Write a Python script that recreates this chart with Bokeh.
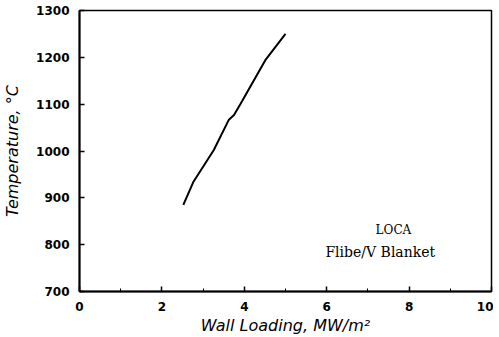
from bokeh.plotting import figure
from bokeh.models import Range1d, Label, FixedTicker
from bokeh.embed import file_html
from bokeh.resources import INLINE

wall_loading = [2.52, 2.77, 3.26, 3.62, 3.75, 3.91, 4.51, 5.0]
temperature = [885, 935, 1002, 1066, 1077, 1101, 1194, 1250]

x_ticks = [0, 2, 4, 6, 8, 10]
y_ticks = [700, 800, 900, 1000, 1100, 1200, 1300]

p = figure(width=493, height=337, output_backend="svg", toolbar_location=None,
           x_range=Range1d(0, 10), y_range=Range1d(700, 1300),
           min_border_left=79, min_border_right=2, min_border_top=10, min_border_bottom=45)

p.line(wall_loading, temperature, line_color="black", line_width=2)

p.xgrid.visible = False
p.ygrid.visible = False
p.outline_line_color = "black"
p.outline_line_width = 1.5
p.outline_line_alpha = 1

p.xaxis.ticker = FixedTicker(ticks=x_ticks, minor_ticks=[1, 3, 5, 7, 9])
p.yaxis.ticker = FixedTicker(ticks=y_ticks, minor_ticks=[])

for ax in (p.xaxis, p.yaxis):
    ax.axis_line_width = 2
    ax.major_tick_in = 5
    ax.major_tick_out = 0
    ax.minor_tick_in = 3
    ax.minor_tick_out = 0
    ax.major_tick_line_width = 1.5
    ax.major_label_text_font = "DejaVu Sans"
    ax.major_label_text_font_style = "bold"
    ax.major_label_text_font_size = "12px"
    ax.major_label_text_color = "black"
    ax.axis_label_text_font = "DejaVu Sans"
    ax.axis_label_text_font_style = "italic"
    ax.axis_label_text_font_size = "16px"
    ax.axis_label_text_color = "black"

p.xaxis.axis_label = "Wall Loading, MW/m²"
p.yaxis.axis_label = "Temperature, °C"
p.xaxis.major_label_standoff = 10
p.yaxis.major_label_standoff = 10
p.xaxis.axis_label_standoff = 2
p.yaxis.axis_label_standoff = 11

p.add_layout(Label(x=7.62, y=832, text="LOCA", text_font="DejaVu Serif",
                   text_font_size="12px", text_align="center", text_baseline="middle",
                   text_color="black"))
p.add_layout(Label(x=7.3, y=785, text="Flibe/V Blanket", text_font="DejaVu Serif",
                   text_font_size="14px", text_align="center", text_baseline="middle",
                   text_color="black"))

open("out.html", "w").write(file_html(p, INLINE))
